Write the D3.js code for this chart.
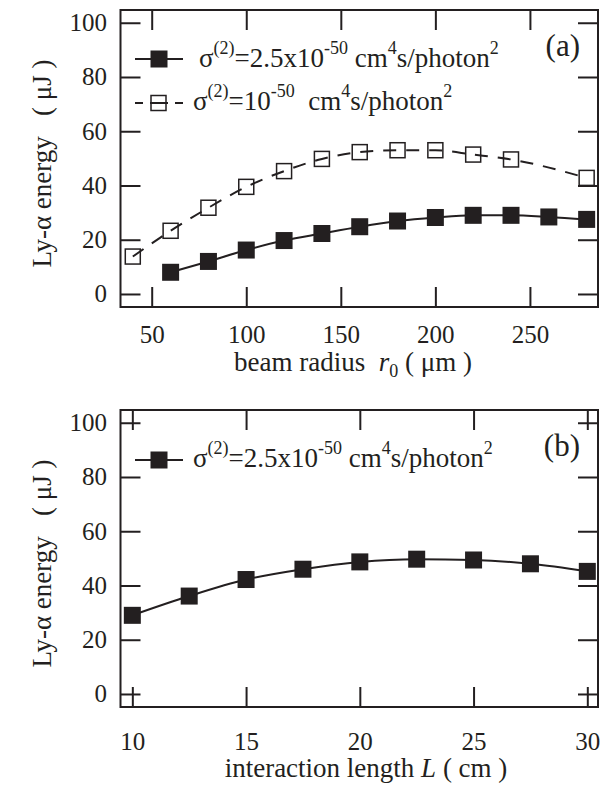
<!doctype html>
<html>
<head>
    <meta charset="utf-8">
    <script src="https://d3js.org/d3.v7.min.js"></script>
</head>
<body style="margin:0">
    <script>
        // Data
        // (a) beam radius r0 (um)
        var radiusHigh   = [60, 80, 100, 120, 140, 160, 180, 200, 220, 240, 260, 280];
        var energyHigh   = [8.0, 12.0, 16.2, 19.7, 22.3, 24.8, 26.9, 28.2, 29.0, 29.0, 28.4, 27.5];
        var radiusLow    = [40, 60, 80, 100, 120, 140, 160, 180, 200, 220, 240, 280];
        var energyLow    = [13.8, 23.3, 31.8, 39.5, 45.3, 49.8, 52.3, 53.0, 53.0, 51.4, 49.6, 42.8];
        var radiusTicks  = [50, 100, 150, 200, 250];

        // (b) interaction length L (cm)
        var lengthVals   = [10, 12.5, 15, 17.5, 20, 22.5, 25, 27.5, 30];
        var energyLength = [29.0, 36.1, 42.2, 46.0, 48.7, 49.7, 49.4, 48.0, 45.2];
        var lengthTicks  = [10, 15, 20, 25, 30];

        var energyTicks  = [0, 20, 40, 60, 80, 100];

        var ink  = "#231f20";
        var font = "'Liberation Serif', monospace";

        var ctx = document.createElement("canvas").getContext("2d");
        ctx.font = "24px " + font;
        ctx.measureText("Ly-α energy 100");

        // Page size
        var svg = d3.select("body")
            .append("svg")
            .attr("width", 606)
            .attr("height", 785);

        var left = 120.5, plotW = 477.5, plotH = 297;

        // New text element with the serif font set straight away
        function addText(parent, size) {
            return parent.append("text")
                .attr("font-size", size)
                .style("font-family", font)
                .attr("fill", ink);
        }

        // Draws one panel, returns scales
        function panel(top, xDomain, xTicks, tickPad) {
            var g = svg.append("g").attr("transform", "translate(" + left + "," + top + ")");
            var x = d3.scaleLinear().domain(xDomain).range([0, plotW]);
            var y = d3.scaleLinear().domain([-4.8, 104.7]).range([plotH, 0]);

            g.append("g").attr("transform", "translate(0," + plotH + ")")
                .call(d3.axisBottom(x).tickValues(xTicks).tickSizeInner(-20).tickSizeOuter(0).tickPadding(tickPad));
            g.append("g")
                .call(d3.axisTop(x).tickValues(xTicks).tickSizeInner(-20).tickSizeOuter(0).tickFormat(""));
            g.append("g")
                .call(d3.axisLeft(y).tickValues(energyTicks).tickSizeInner(-20).tickSizeOuter(0).tickPadding(13.5));
            g.append("g").attr("transform", "translate(" + plotW + ",0)")
                .call(d3.axisRight(y).tickValues(energyTicks).tickSizeInner(-20).tickSizeOuter(0).tickFormat(""));

            g.selectAll(".domain").remove();
            g.selectAll("g").attr("font-family", null);
            g.selectAll(".tick line").attr("stroke", ink).attr("stroke-width", 2);
            g.selectAll(".tick text").attr("font-size", 25)
                .style("font-family", font).attr("fill", ink);

            // Frame
            g.append("rect")
                .attr("width", plotW).attr("height", plotH)
                .attr("fill", "none").attr("stroke", ink).attr("stroke-width", 2);

            // Y title
            addText(g, 27)
                .attr("transform", "translate(" + (51 - left) + "," + (plotH / 2 + 5) + ") rotate(-90)")
                .attr("text-anchor", "middle")
                .style("white-space", "pre")
                .text("Ly-α energy   ( μJ )");

            return { g: g, x: x, y: y };
        }

        // Text with superscripts, shift back down after each one
        function sigmaText(g, xPos, yPos, parts) {
            var t = addText(g, 27).attr("x", xPos).attr("y", yPos)
                .style("white-space", "pre");
            var raised = false;
            parts.forEach(function(p) {
                if (p.sup) {
                    t.append("tspan").attr("font-size", 18).attr("dy", -13).text(p.s);
                    raised = true;
                } else {
                    t.append("tspan").attr("dy", raised ? 13 : 0).text(p.s);
                    raised = false;
                }
            });
        }

        var line = d3.line().curve(d3.curveMonotoneX);

        // ---------- Panel (a) ----------
        var a = panel(10, [33.5, 286], radiusTicks, 18);

        a.g.append("path")
            .attr("d", line(radiusLow.map(function(d, i) { return [a.x(d), a.y(energyLow[i])]; })))
            .attr("fill", "none").attr("stroke", ink).attr("stroke-width", 2)
            .attr("stroke-dasharray", "13,10");
        a.g.append("path")
            .attr("d", line(radiusHigh.map(function(d, i) { return [a.x(d), a.y(energyHigh[i])]; })))
            .attr("fill", "none").attr("stroke", ink).attr("stroke-width", 2);

        a.g.selectAll(".open").data(radiusLow).enter().append("rect")
            .attr("x", function(d) { return a.x(d) - 7.5; })
            .attr("y", function(d, i) { return a.y(energyLow[i]) - 7.5; })
            .attr("width", 15).attr("height", 15)
            .attr("fill", "none").attr("stroke", ink).attr("stroke-width", 1.5);
        a.g.selectAll(".filled").data(radiusHigh).enter().append("rect")
            .attr("x", function(d) { return a.x(d) - 8.5; })
            .attr("y", function(d, i) { return a.y(energyHigh[i]) - 8.5; })
            .attr("width", 17).attr("height", 17)
            .attr("fill", ink);

        // Legend (a)
        var leg = svg.append("g");
        leg.append("line").attr("x1", 135).attr("x2", 183).attr("y1", 59).attr("y2", 59)
            .attr("stroke", ink).attr("stroke-width", 2);
        leg.append("rect").attr("x", 150.5).attr("y", 50.5).attr("width", 17).attr("height", 17).attr("fill", ink);
        sigmaText(leg, 199, 67, [{s: "σ"}, {s: "(2)", sup: true}, {s: "=2.5x10"}, {s: "-50", sup: true},
            {s: " cm"}, {s: "4", sup: true}, {s: "s/photon"}, {s: "2", sup: true}]);

        leg.append("line").attr("x1", 135).attr("x2", 183).attr("y1", 103).attr("y2", 103)
            .attr("stroke", ink).attr("stroke-width", 2).attr("stroke-dasharray", "8,7,18,7,8");
        leg.append("rect").attr("x", 151).attr("y", 95.5).attr("width", 15).attr("height", 15)
            .attr("fill", "none").attr("stroke", ink).attr("stroke-width", 1.5);
        sigmaText(leg, 193, 110, [{s: "σ"}, {s: "(2)", sup: true}, {s: "=10"}, {s: "-50", sup: true},
            {s: "  cm"}, {s: "4", sup: true}, {s: "s/photon"}, {s: "2", sup: true}]);

        addText(svg, 31).attr("x", 580).attr("y", 56).attr("text-anchor", "end").text("(a)");

        // X title (a)
        var xa = addText(svg, 27).attr("x", 353).attr("y", 371)
            .attr("text-anchor", "middle").style("white-space", "pre");
        xa.append("tspan").text("beam radius  ");
        xa.append("tspan").attr("font-style", "italic").text("r");
        xa.append("tspan").attr("font-size", 18).attr("dy", 6).text("0");
        xa.append("tspan").attr("dy", -6).text(" ( μm )");

        // ---------- Panel (b) ----------
        var b = panel(410, [9.48, 30.47], lengthTicks, 25);

        b.g.append("path")
            .attr("d", line(lengthVals.map(function(d, i) { return [b.x(d), b.y(energyLength[i])]; })))
            .attr("fill", "none").attr("stroke", ink).attr("stroke-width", 2);
        b.g.selectAll(".filled").data(lengthVals).enter().append("rect")
            .attr("x", function(d) { return b.x(d) - 8.5; })
            .attr("y", function(d, i) { return b.y(energyLength[i]) - 8.5; })
            .attr("width", 17).attr("height", 17)
            .attr("fill", ink);

        // Legend (b)
        var legb = svg.append("g");
        legb.append("line").attr("x1", 135).attr("x2", 183).attr("y1", 460).attr("y2", 460)
            .attr("stroke", ink).attr("stroke-width", 2);
        legb.append("rect").attr("x", 150.5).attr("y", 451.5).attr("width", 17).attr("height", 17).attr("fill", ink);
        sigmaText(legb, 193, 467, [{s: "σ"}, {s: "(2)", sup: true}, {s: "=2.5x10"}, {s: "-50", sup: true},
            {s: " cm"}, {s: "4", sup: true}, {s: "s/photon"}, {s: "2", sup: true}]);

        addText(svg, 31).attr("x", 580).attr("y", 456).attr("text-anchor", "end").text("(b)");

        // X title (b)
        var xb = addText(svg, 27).attr("x", 366).attr("y", 777)
            .attr("text-anchor", "middle").style("white-space", "pre");
        xb.append("tspan").text("interaction length ");
        xb.append("tspan").attr("font-style", "italic").text("L");
        xb.append("tspan").text(" ( cm )");
    </script>
</body>
</html>
